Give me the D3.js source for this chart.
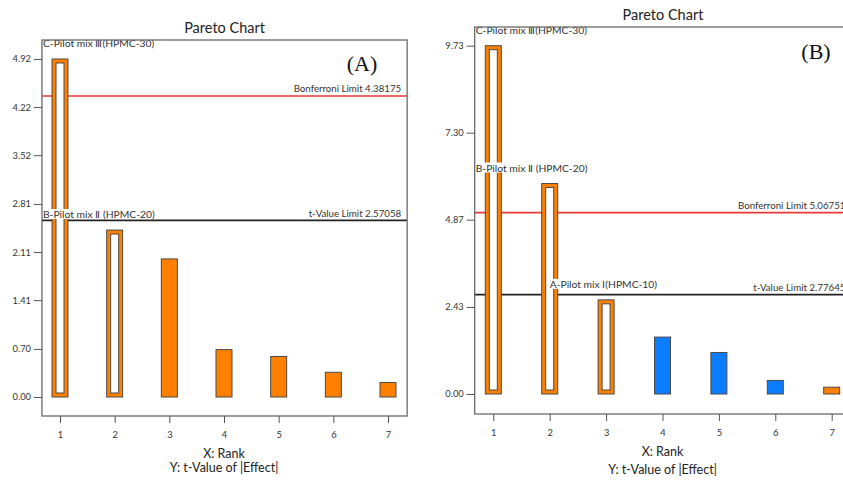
<!DOCTYPE html>
<html>
<head>
<meta charset="utf-8">
<script src="https://cdn.jsdelivr.net/npm/d3@7"></script>
<style>
  body { margin: 0; background: #fff; }
  svg { display: block; }
</style>
</head>
<body>
<svg id="chart" width="843" height="483"></svg>
<script>
// ranks (x axis) shared by both panels
const ranks = [1, 2, 3, 4, 5, 6, 7];

// panel A
const tValuesA = [4.92, 2.43, 2.01, 0.69, 0.59, 0.36, 0.21];
const hollowA = [true, true, false, false, false, false, false];
const signA = ['pos', 'pos', 'pos', 'pos', 'pos', 'pos', 'pos'];
const yTicksA = [0.00, 0.70, 1.41, 2.11, 2.81, 3.52, 4.22, 4.92];
const labelsA = ['C-Pilot mix Ⅲ(HPMC-30)', 'B-Pilot mix Ⅱ (HPMC-20)'];
const labelRanksA = [0.68, 0.68];

// panel B
const tValuesB = [9.73, 5.88, 2.63, 1.59, 1.16, 0.38, 0.19];
const hollowB = [true, true, true, false, false, false, false];
const signB = ['pos', 'pos', 'pos', 'neg', 'neg', 'neg', 'pos'];
const yTicksB = [0.00, 2.43, 4.87, 7.30, 9.73];
const labelsB = ['C-Pilot mix Ⅲ(HPMC-30)', 'B-Pilot mix Ⅱ (HPMC-20)', 'A-Pilot mix Ⅰ(HPMC-10)'];
const labelRanksB = [0.68, 0.68, 2.0];

const bonferroniLimits = [4.38175, 5.06751];
const tValueLimits = [2.57058, 2.77645];
const panelTags = ['(A)', '(B)'];

const colors = { pos: '#ff8000', neg: '#0a7cff' };
const font = 'Lato, "Open Sans", sans-serif';

const svg = d3.select('#chart');

function drawPanel(p) {
  const g = svg.append('g');
  const x = d3.scaleLinear().domain([1, 7]).range([p.x1, p.x7]);
  const y = d3.scaleLinear().domain([0, p.yMax]).range([p.y0, p.yTop]);
  const left = x(0.67), right = x(7.35);
  const bw = 16;

  // title
  g.append('text').attr('x', (left + right) / 2 - p.titleShift).attr('y', p.top - 7)
    .attr('text-anchor', 'middle').attr('font-family', font).attr('font-size', 14.5)
    .attr('fill', '#222').text('Pareto Chart');

  // limit lines
  const limits = [
    { v: p.bonf, color: '#e53935', text: 'Bonferroni Limit ' + p.bonf },
    { v: p.tlim, color: '#222', text: 't-Value Limit ' + p.tlim }
  ];
  limits.forEach(l => {
    g.append('line').attr('x1', left).attr('x2', right)
      .attr('y1', y(l.v)).attr('y2', y(l.v))
      .attr('stroke', l.color).attr('stroke-width', 1.6);
    g.append('text').attr('x', right - 6).attr('y', y(l.v) - 3.5)
      .attr('text-anchor', 'end').attr('font-family', font).attr('font-size', 9.7)
      .attr('fill', '#333').text(l.text);
  });

  // bars
  const bars = ranks.map((r, i) => ({ r, v: p.values[i], hollow: p.hollow[i], sign: p.sign[i] }));
  g.selectAll('rect.bar').data(bars).enter().append('rect').attr('class', 'bar')
    .attr('x', d => x(d.r) - bw / 2).attr('width', bw)
    .attr('y', d => y(d.v)).attr('height', d => y(0) - y(d.v))
    .attr('fill', d => colors[d.sign]).attr('stroke', '#4a4a4a').attr('stroke-width', 1);
  g.selectAll('rect.inner').data(bars.filter(d => d.hollow)).enter().append('rect')
    .attr('class', 'inner')
    .attr('x', d => x(d.r) - bw / 2 + 4).attr('width', bw - 8)
    .attr('y', d => y(d.v) + 4).attr('height', d => y(0) - y(d.v) - 8)
    .attr('fill', '#fff').attr('stroke', '#4a4a4a').attr('stroke-width', 1);

  // factor labels
  p.labels.forEach((t, i) => {
    const tx = Math.max(left + 1, x(p.labelRanks[i]));
    const ty = y(p.values[i]) - 12;
    const txt = g.append('text').attr('x', tx).attr('y', ty)
      .attr('font-family', font).attr('font-size', 10.3).attr('fill', '#333').text(t);
    const bb = txt.node().getBBox();
    g.insert('rect', () => txt.node()).attr('x', bb.x).attr('y', bb.y + 1)
      .attr('width', bb.width).attr('height', bb.height - 2).attr('fill', '#fff');
  });

  // frame
  g.append('rect').attr('x', left).attr('y', p.top)
    .attr('width', right - left).attr('height', p.bottom - p.top)
    .attr('fill', 'none').attr('stroke', '#6a6a6a').attr('stroke-width', 1.3);

  // y axis
  const yAxis = g.append('g').attr('transform', `translate(${left},0)`)
    .call(d3.axisLeft(y).tickValues(p.yTicks).tickFormat(d3.format('.2f')).tickSize(8).tickPadding(3));
  yAxis.select('.domain').remove();
  yAxis.selectAll('line').attr('stroke', '#555');
  yAxis.selectAll('text').attr('font-family', font).attr('font-size', 9.3).attr('fill', '#333');

  // x axis
  const xAxis = g.append('g').attr('transform', `translate(0,${p.bottom})`)
    .call(d3.axisBottom(x).tickValues(ranks).tickFormat(d3.format('d')).tickSize(7).tickPadding(8));
  xAxis.select('.domain').remove();
  xAxis.selectAll('line').attr('stroke', '#555');
  xAxis.selectAll('text').attr('font-family', font).attr('font-size', 9.3).attr('fill', '#333');

  const cx = (x(1) + x(7)) / 2;
  g.append('text').attr('x', cx).attr('y', p.bottom + 42).attr('text-anchor', 'middle')
    .attr('font-family', font).attr('font-size', 12.5).attr('fill', '#222').text('X: Rank');
  g.append('text').attr('x', cx).attr('y', p.bottom + 56 + p.extra).attr('text-anchor', 'middle')
    .attr('font-family', font).attr('font-size', 12.5).attr('fill', '#222').text('Y: t-Value of |Effect|');

  // panel tag
  g.append('text').attr('x', p.tagX).attr('y', p.tagY).attr('text-anchor', 'middle')
    .attr('font-family', '"Liberation Serif", "Times New Roman", serif').attr('font-size', 22)
    .attr('fill', '#111').text(p.tag);
}

drawPanel({
  x1: 60, x7: 388, y0: 397, yTop: 59, yMax: 4.92, top: 40, bottom: 416,
  values: tValuesA, hollow: hollowA, sign: signA, yTicks: yTicksA,
  labels: labelsA, labelRanks: labelRanksA,
  bonf: bonferroniLimits[0], tlim: tValueLimits[0], tag: panelTags[0],
  tagX: 362, tagY: 71, titleShift: 0, extra: 0
});

drawPanel({
  x1: 493.3, x7: 831.7, y0: 394, yTop: 45.7, yMax: 9.73, top: 27, bottom: 414,
  values: tValuesB, hollow: hollowB, sign: signB, yTicks: yTicksB,
  labels: labelsB, labelRanks: labelRanksB,
  bonf: bonferroniLimits[1], tlim: tValueLimits[1], tag: panelTags[1],
  tagX: 816, tagY: 59, titleShift: (851.5 - 474.7) / 2 + 474.7 - 663, extra: 4
});
</script>
</body>
</html>
